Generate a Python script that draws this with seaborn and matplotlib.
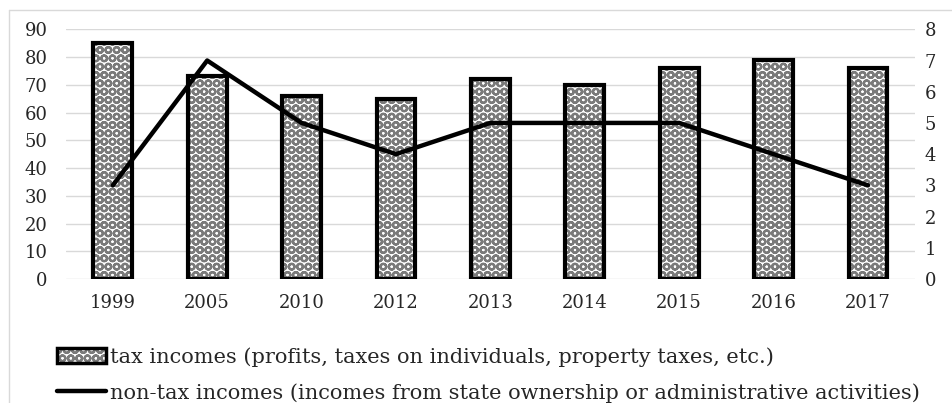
import numpy as np
import pandas as pd
import seaborn as sns
import matplotlib
matplotlib.use("Agg")
import matplotlib.pyplot as plt
from matplotlib.patches import Patch
from matplotlib.lines import Line2D
from matplotlib.legend_handler import HandlerTuple

years = ["1999", "2005", "2010", "2012", "2013", "2014", "2015", "2016", "2017"]
tax_incomes = [85, 73, 66, 65, 72, 70, 76, 79, 76]
non_tax_incomes = [3, 7, 5, 4, 5, 5, 5, 4, 3]
left_ticks = [0, 10, 20, 30, 40, 50, 60, 70, 80, 90]
right_ticks = [0, 1, 2, 3, 4, 5, 6, 7, 8]
label_tax = "tax incomes (profits, taxes on individuals, property taxes, etc.)"
label_nontax = "non-tax incomes (incomes from state ownership or administrative activities)"

sns.set_style("white")
plt.rcParams["font.family"] = ["DejaVu Serif"]
plt.rcParams["hatch.linewidth"] = 1.6
FS = 13
FS_LEG = 15

df = pd.DataFrame({"year": years, "tax": tax_incomes, "nontax": non_tax_incomes})

fig = plt.figure(figsize=(9.52, 4.03), dpi=100)
ax = fig.add_axes([0.0689, 0.3077, 0.8924, 0.6196])

HATCH_GRAY = "#7a7a7a"
sns.barplot(data=df, x="year", y="tax", ax=ax, color="white", width=0.41,
            edgecolor=HATCH_GRAY, linewidth=0, hatch="OO", zorder=2)
sns.barplot(data=df, x="year", y="tax", ax=ax, color="black", width=0.41,
            fill=False, linewidth=3, zorder=3)

ax.set_ylim(0, 90)
ax.set_yticks(left_ticks)
ax.set_xlim(-0.5, len(years) - 0.5)
ax.set_xlabel("")
ax.set_ylabel("")
ax.yaxis.grid(True, color="#d9d9d9", linewidth=1.0)
ax.set_axisbelow(True)
for s in ax.spines.values():
    s.set_visible(False)
ax.tick_params(axis="y", length=0, pad=13, labelsize=FS)
ax.tick_params(axis="x", length=0, pad=11, labelsize=FS)

ax2 = ax.twinx()
sns.lineplot(x=np.arange(len(years)), y=non_tax_incomes, ax=ax2, color="black",
             linewidth=3.2, zorder=5)
ax2.set_ylim(0, 8)
ax2.set_yticks(right_ticks)
ax2.set_ylabel("")
for s in ax2.spines.values():
    s.set_visible(False)
ax2.tick_params(axis="y", length=0, pad=7, labelsize=FS)
ax2.grid(False)

# outer chart frame
fig.add_artist(Line2D([9 / 952, 1.0], [1 - 10 / 403, 1 - 10 / 403],
                      transform=fig.transFigure, color="#d9d9d9", linewidth=1.0))
fig.add_artist(Line2D([9 / 952, 9 / 952], [0, 1 - 10 / 403],
                      transform=fig.transFigure, color="#d9d9d9", linewidth=1.0))

h_fill = Patch(facecolor="white", edgecolor=HATCH_GRAY, hatch="OO", linewidth=0)
h_edge = Patch(facecolor="none", edgecolor="black", linewidth=2.5)
h_line = Line2D([], [], color="black", linewidth=3.2)
fig.legend([(h_fill, h_edge), h_line], [label_tax, label_nontax],
           handler_map={tuple: HandlerTuple(ndivide=1)},
           loc="upper left", bbox_to_anchor=(57 / 952, 1 - 347 / 403),
           frameon=False, fontsize=FS_LEG, handlelength=2.33, handleheight=0.73,
           handletextpad=0.2, labelspacing=0.78, borderpad=0, borderaxespad=0)

fig.savefig("out.png", dpi=100)
